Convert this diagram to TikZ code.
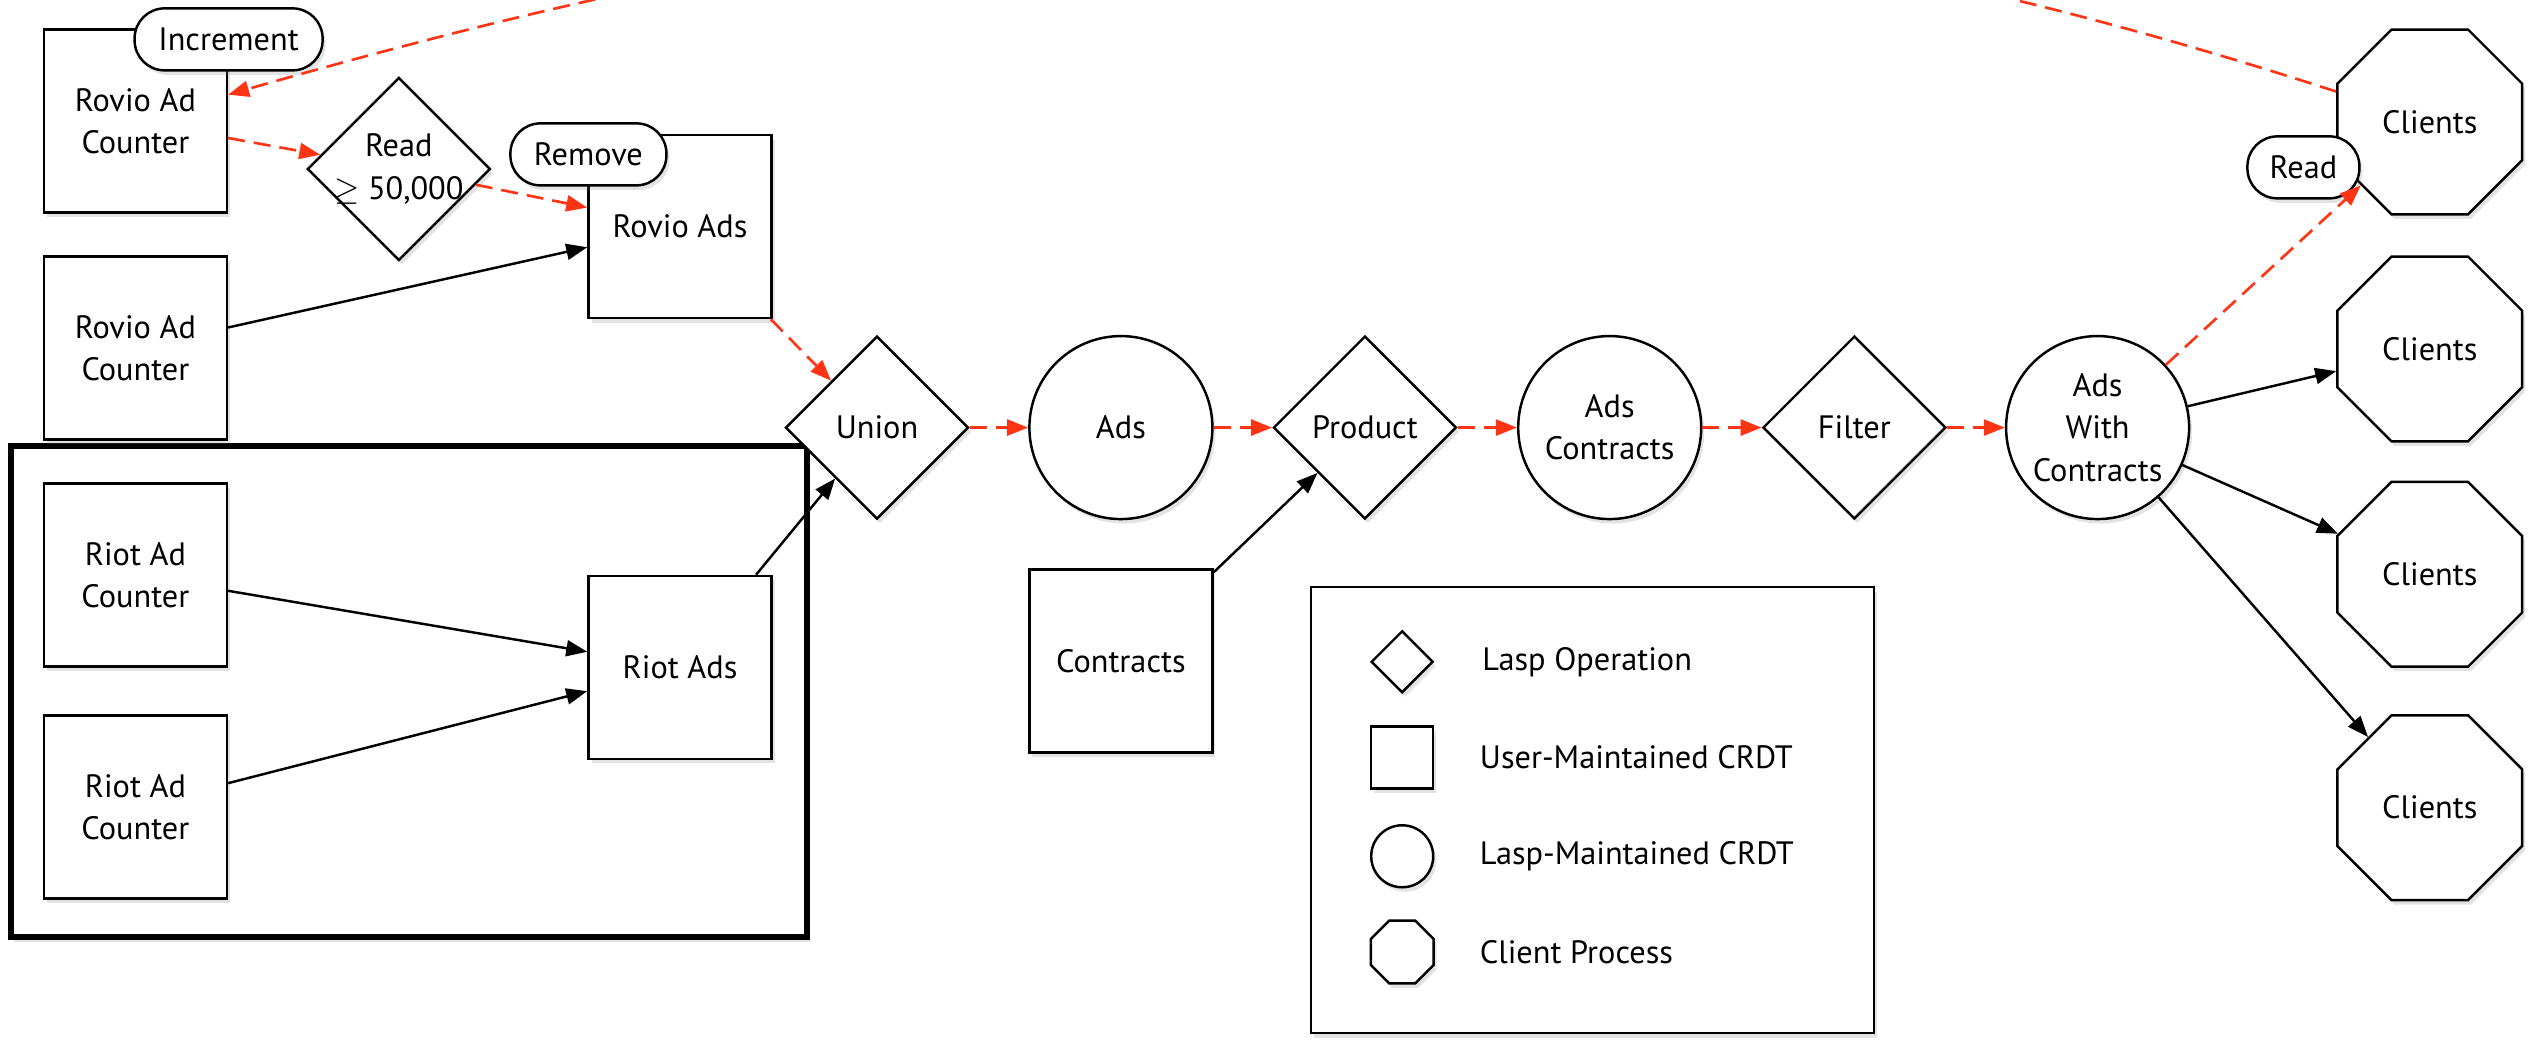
\documentclass[tikz,border=0pt]{standalone}
\usepackage{fontspec}
\setmainfont{PT Sans}
\usepackage{tikz}
\usetikzlibrary{arrows.meta,positioning,shapes.geometric,shadows}
\definecolor{flowred}{HTML}{FF3414}
\tikzset{
  box/.style = {draw, line width=0.7pt, fill=white, drop shadow={opacity=0.22, shadow xshift=0.03cm, shadow yshift=-0.045cm}},
  crdt/.style = {box, rectangle, minimum width=1.83cm, minimum height=1.83cm, inner sep=1pt, align=center},
  op/.style = {box, diamond, minimum width=1.83cm, minimum height=1.83cm, inner sep=0pt, align=center},
  lasp/.style = {box, circle, minimum size=1.83cm, inner sep=0pt, align=center},
  client/.style = {box, regular polygon, regular polygon sides=8, minimum size=2.0cm, inner sep=0pt},
  pill/.style = {box, rectangle, rounded corners=0.3cm, minimum height=0.62cm, inner sep=2pt},
  group/.style = {draw, line width=1.6pt, fill=white, minimum width=7.96cm, minimum height=4.91cm, drop shadow={opacity=0.22, shadow xshift=0.03cm, shadow yshift=-0.05cm}},
  mini/.style = {minimum width=0.62cm, minimum height=0.62cm, minimum size=0.62cm},
  link/.style = {draw, line width=0.7pt, -{Triangle[length=0.21cm, width=0.16cm]}},
  flow/.style = {draw=flowred, line width=0.75pt, dash pattern=on 0.17cm off 0.09cm, -{Triangle[length=0.21cm, width=0.16cm]}},
}

\begin{document}
\begin{tikzpicture}[x=1cm,y=1cm,font=\fontsize{9.2}{12}\selectfont]
  \useasboundingbox (0,0) rectangle (25.42,10.46);
  \clip (0,0) rectangle (25.42,10.46);

  \node[group] (riotgrp) at (4.093,3.542) {};

  \node[crdt] (c1) at (1.354,9.248) {Rovio Ad\\Counter};
  \node[crdt] (c2) at (1.354,6.978) {Rovio Ad\\Counter};
  \node[crdt] (r1) at (1.354,4.709) {Riot Ad\\Counter};
  \node[crdt] (r2) at (1.354,2.391) {Riot Ad\\Counter};
  \node[op, inner sep=-0.25cm] (read) at (3.988,8.770) {Read\\$\geq$ 50,000};
  \node[crdt] (rads) at (6.800,8.194) {Rovio Ads};
  \node[crdt] (riot) at (6.800,3.785) {Riot Ads};

  \node[op] (union) at (8.770,6.184) {Union};
  \node[lasp] (ads) at (11.209,6.184) {Ads};
  \node[op] (prod) at (13.649,6.184) {Product};
  \node[lasp] (adsc) at (16.097,6.184) {Ads\\Contracts};
  \node[op] (filt) at (18.544,6.184) {Filter};
  \node[lasp] (awc) at (20.976,6.184) {Ads\\With\\Contracts};
  \node[crdt] (contr) at (11.209,3.850) {Contracts};

  \foreach \n/\y in {1/9.240, 2/6.970, 3/4.717, 4/2.383}{
    \node[client] (cl\n) at (24.298,\y) {Clients};
  }

  \node[pill, minimum width=1.88cm] (inc) at (2.286,10.066) {Increment};
  \node[pill, minimum width=1.56cm] (rem) at (5.884,8.916) {Remove};
  \node[pill, minimum width=1.12cm] (rd) at (23.034,8.786) {Read};

  \draw[flow] (c1) -- (read);
  \draw[flow] (read) -- (rads);
  \draw[flow] (rads) -- (union);
  \draw[link] (c2) -- (rads);
  \draw[link] (r1) -- (riot);
  \draw[link] (r2) -- (riot);
  \draw[link] (riot) -- (union);
  \draw[link] (contr) -- (prod);
  \foreach \a/\b in {union/ads, ads/prod, prod/adsc, adsc/filt, filt/awc}{
    \draw[flow] (\a) -- (\b);
  }
  \foreach \n in {2,3,4}{
    \draw[link] (awc) -- (cl\n);
  }
  \draw[flow] (awc) -- (cl1);
  \draw[flow] (cl1) to[out=162, in=16] (c1);

  \node[box, rectangle, minimum width=5.63cm, minimum height=4.46cm] (key) at (15.926,2.358) {};
  \node[op, mini] (kop) at (14.022,3.842) {};
  \node[crdt, mini] (kusr) at (14.022,2.885) {};
  \node[lasp, mini] (klasp) at (14.022,1.897) {};
  \node[client, minimum size=0.68cm] (kcl) at (14.022,0.940) {};
  \node[anchor=west] (kopt) at (14.70,3.842) {Lasp Operation};
  \node[anchor=west] (kusrt) at (14.675,2.885) {User-Maintained CRDT};
  \node[anchor=west] (klaspt) at (14.675,1.897) {Lasp-Maintained CRDT};
  \node[anchor=west] (kclt) at (14.675,0.940) {Client Process};
\end{tikzpicture}
\end{document}
